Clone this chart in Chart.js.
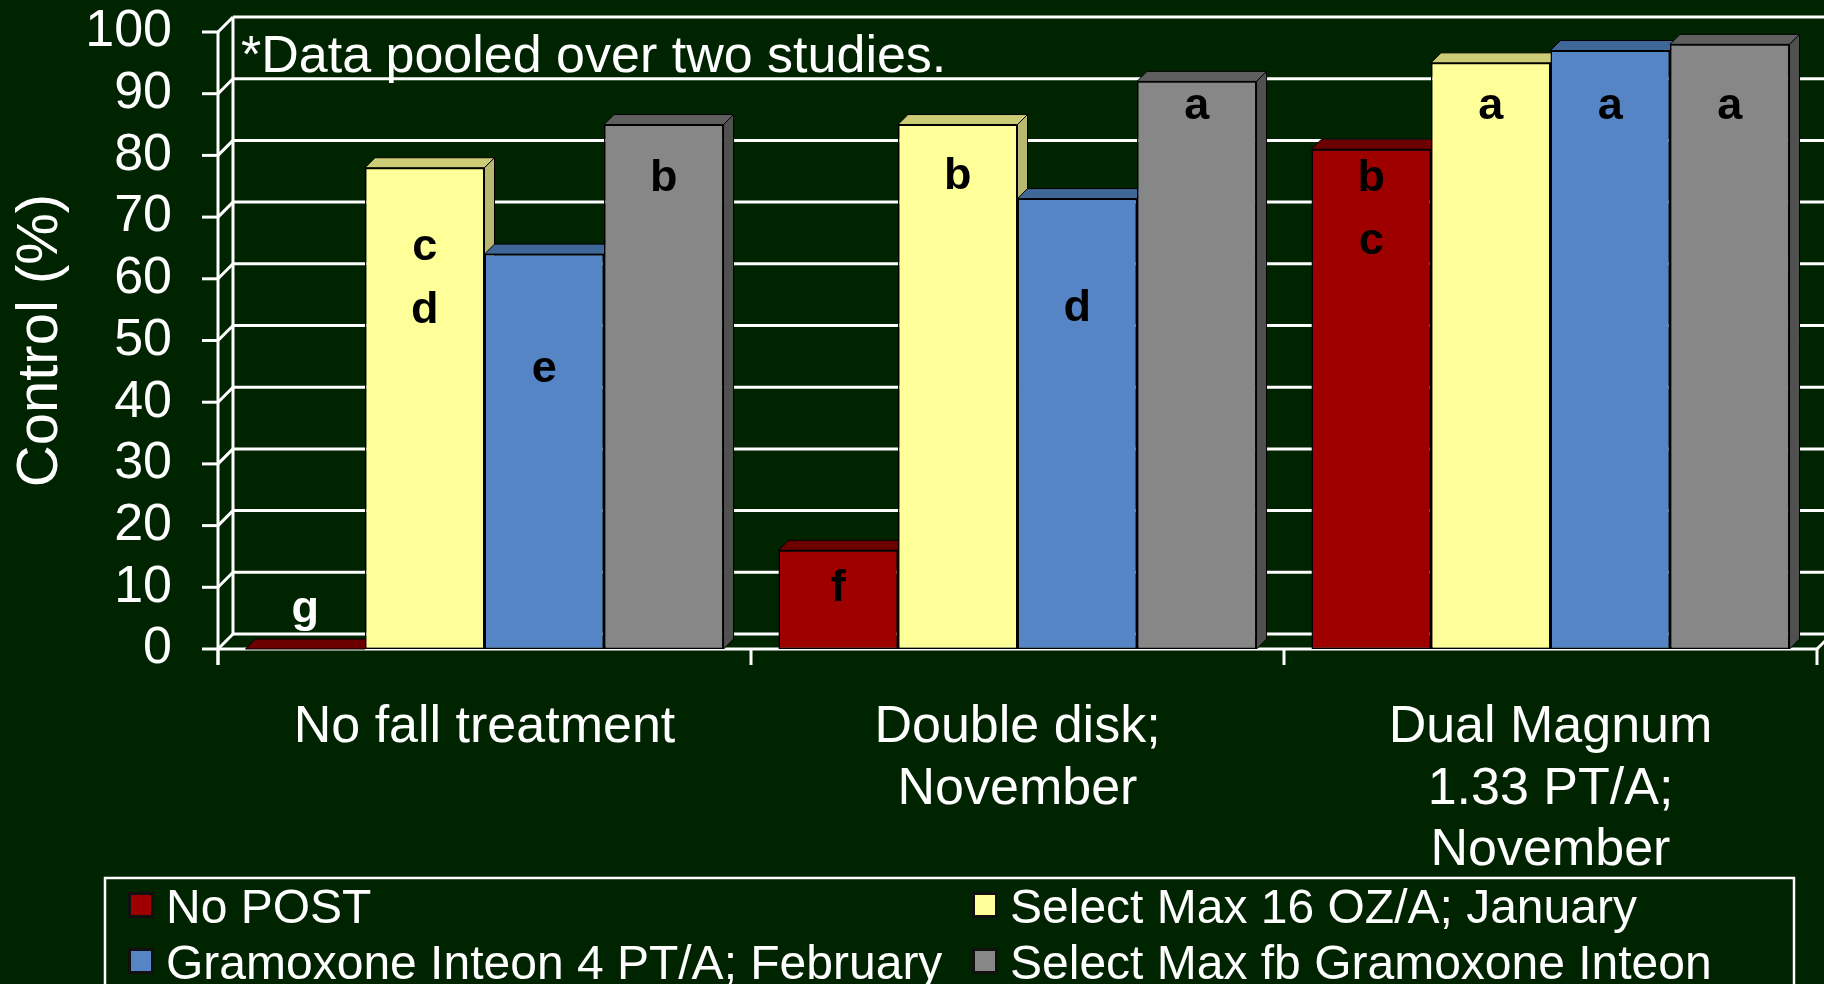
<!DOCTYPE html>
<html>
<head>
<meta charset="utf-8">
<script src="https://cdn.jsdelivr.net/npm/chart.js@4/dist/chart.umd.min.js"></script>
<style>
  html, body { margin: 0; padding: 0; background: #002400; }
  canvas { display: block; }
</style>
</head>
<body>
<canvas id="myChart" width="1824" height="984"></canvas>
<script>
const categories = [['No fall treatment'], ['Double disk;', 'November'], ['Dual Magnum', '1.33 PT/A;', 'November']];
const seriesNames = ['No POST', 'Select Max 16 OZ/A; January', 'Gramoxone Inteon 4 PT/A; February', 'Select Max fb Gramoxone Inteon'];

const noPost = [0, 16, 81];
const selectMax = [78, 85, 95];
const gramoxone = [64, 73, 97];
const selectMaxFbGramoxone = [85, 92, 98];

// mean separation letters and the value where their first line sits
const noPostLetters = [['g'], ['f'], ['b', 'c']];
const selectMaxLetters = [['c', 'd'], ['b'], ['a']];
const gramoxoneLetters = [['e'], ['d'], ['a']];
const selectMaxFbGramoxoneLetters = [['b'], ['a'], ['a']];
const noPostLetterAt = [4.4, 7.8, 74.2];
const selectMaxLetterAt = [63.0, 74.6, 85.9];
const gramoxoneLetterAt = [43.3, 53.1, 85.9];
const selectMaxFbGramoxoneLetterAt = [74.2, 85.9, 85.9];

const yTicks = [0, 10, 20, 30, 40, 50, 60, 70, 80, 90, 100];
const note = '*Data pooled over two studies.';

const FONT = "'Liberation Sans', Arial, sans-serif";
const BG = '#002400';
const frontColors = ['#9e0000', '#ffff99', '#5585c4', '#878787'];
const topColors = ['#6c0000', '#cccc77', '#3f6899', '#5f5f5f'];
const sideColors = ['#6c0000', '#b8b870', '#365a88', '#505050'];
const depth = 10;
const wall = 15;

const letters = [noPostLetters, selectMaxLetters, gramoxoneLetters, selectMaxFbGramoxoneLetters];
const letterAt = [noPostLetterAt, selectMaxLetterAt, gramoxoneLetterAt, selectMaxFbGramoxoneLetterAt];

function line(ctx, x1, y1, x2, y2) {
  ctx.beginPath();
  ctx.moveTo(x1, y1);
  ctx.lineTo(x2, y2);
  ctx.stroke();
}

function poly(ctx, pts, fill) {
  ctx.beginPath();
  ctx.moveTo(pts[0][0], pts[0][1]);
  pts.slice(1).forEach(p => ctx.lineTo(p[0], p[1]));
  ctx.closePath();
  ctx.fillStyle = fill;
  ctx.fill();
  ctx.stroke();
}

const threeD = {
  id: 'threeD',
  beforeDraw(chart) {
    const ctx = chart.ctx;
    ctx.save();
    ctx.fillStyle = BG;
    ctx.fillRect(0, 0, chart.width, chart.height);
    ctx.restore();
  },
  beforeDatasetsDraw(chart) {
    const {ctx, chartArea: a, scales: {x, y}} = chart;
    ctx.save();
    ctx.strokeStyle = '#ffffff';
    ctx.lineWidth = 3;
    y.ticks.forEach(t => {
      const py = y.getPixelForValue(t.value);
      line(ctx, a.left + wall, py - wall, chart.width, py - wall);
      line(ctx, a.left, py, a.left + wall, py - wall);
      line(ctx, a.left - 16, py, a.left, py);
    });
    line(ctx, a.left + wall, a.top - wall, a.left + wall, a.bottom - wall);
    line(ctx, a.left, a.top, a.left, a.bottom + 16);
    line(ctx, a.left, a.bottom, a.right, a.bottom);
    line(ctx, a.right, a.bottom, a.right + wall, a.bottom - wall);
    const n = x.ticks.length;
    for (let i = 0; i <= n; i++) {
      const px = a.left + i * (a.right - a.left) / n;
      line(ctx, px, a.bottom, px, a.bottom + 16);
    }

    // top and side faces of the bars, left to right
    ctx.strokeStyle = '#000000';
    ctx.lineWidth = 1;
    chart.data.datasets.forEach((ds, i) => {
      chart.getDatasetMeta(i).data.forEach(bar => {
        const p = bar.getProps(['x', 'y', 'base', 'width'], true);
        const l = p.x - p.width / 2, r = p.x + p.width / 2;
        poly(ctx, [[l, p.y], [l + depth, p.y - depth], [r + depth, p.y - depth], [r, p.y]], topColors[i]);
        poly(ctx, [[r, p.y], [r + depth, p.y - depth], [r + depth, p.base - depth], [r, p.base]], sideColors[i]);
      });
    });
    ctx.restore();
  },
  afterDatasetsDraw(chart) {
    const {ctx, scales: {y}} = chart;
    ctx.save();
    ctx.font = 'bold 45px ' + FONT;
    ctx.textAlign = 'center';
    ctx.textBaseline = 'alphabetic';
    chart.data.datasets.forEach((ds, i) => {
      chart.getDatasetMeta(i).data.forEach((bar, j) => {
        const at = letterAt[i][j];
        ctx.fillStyle = at > ds.data[j] ? '#ffffff' : '#000000';
        letters[i][j].forEach((s, k) => {
          ctx.fillText(s, bar.x, y.getPixelForValue(at) + k * 63);
        });
      });
    });
    ctx.restore();
  },
  afterDraw(chart) {
    const ctx = chart.ctx;
    ctx.save();
    ctx.fillStyle = '#ffffff';
    ctx.font = '52px ' + FONT;
    ctx.textAlign = 'left';
    ctx.textBaseline = 'alphabetic';
    ctx.fillText(note, 241, 72);

    // legend
    ctx.strokeStyle = '#ffffff';
    ctx.lineWidth = 2.5;
    ctx.strokeRect(105, 878, 1689, 140);
    ctx.font = '48px ' + FONT;
    const colX = [128, 972];
    const rowY = [923, 979];
    chart.data.datasets.forEach((ds, i) => {
      const cx = colX[i % 2];
      const by = rowY[Math.floor(i / 2)];
      ctx.fillStyle = '#111111';
      ctx.fillRect(cx, by - 31, 26, 26);
      ctx.fillStyle = ds.backgroundColor;
      ctx.fillRect(cx + 3, by - 28, 20, 20);
      ctx.fillStyle = '#ffffff';
      ctx.fillText(ds.label, cx + 38, by);
    });
    ctx.restore();
  }
};

const datasets = [noPost, selectMax, gramoxone, selectMaxFbGramoxone].map((values, i) => ({
  label: seriesNames[i],
  data: values,
  backgroundColor: frontColors[i],
  borderColor: '#000000',
  borderWidth: 1.5,
  borderSkipped: false,
}));

const ctx = document.getElementById('myChart').getContext('2d');
const chart = new Chart(ctx, {
  type: 'bar',
  data: {labels: categories, datasets: datasets},
  options: {
    responsive: false,
    animation: false,
    devicePixelRatio: 1,
    layout: {padding: {left: 0, right: 7, top: 32, bottom: 0}},
    datasets: {bar: {categoryPercentage: 0.897, barPercentage: 1}},
    plugins: {legend: {display: false}, tooltip: {enabled: false}},
    scales: {
      x: {
        grid: {display: false, drawTicks: false},
        border: {display: false},
        ticks: {color: '#ffffff', font: {family: FONT, size: 52, lineHeight: 1.185}, padding: 48, maxRotation: 0, autoSkip: false},
        afterFit(axis) { axis.height = 335; axis.paddingLeft = 0; axis.paddingRight = 0; }
      },
      y: {
        min: 0,
        max: 100,
        grid: {display: false, drawTicks: false},
        border: {display: false},
        afterBuildTicks(axis) { axis.ticks = yTicks.map(v => ({value: v})); },
        ticks: {color: '#ffffff', font: {family: FONT, size: 52}, padding: 46, autoSkip: false},
        title: {display: true, text: 'Control (%)', color: '#ffffff', font: {family: FONT, size: 58}, padding: {top: 6, bottom: 0}},
        afterFit(axis) { axis.width = 218; axis.paddingTop = 0; axis.paddingBottom = 0; }
      }
    }
  },
  plugins: [threeD]
});
</script>
</body>
</html>
